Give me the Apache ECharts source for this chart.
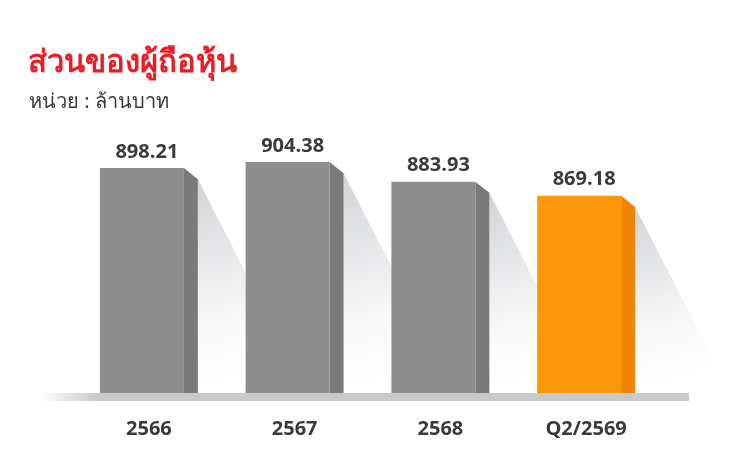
<!DOCTYPE html>
<html>
<head>
<meta charset="utf-8">
<script src="https://cdn.jsdelivr.net/npm/echarts@6/dist/echarts.min.js"></script>
<style>
html,body{margin:0;padding:0;background:#fff;}
#chart{width:733px;height:470px;}
</style>
</head>
<body>
<div id="chart"></div>
<script>
const titleText = 'ส่วนของผู้ถือหุ้น';
const unitText = 'หน่วย : ล้านบาท';
const categories = ['2566', '2567', '2568', 'Q2/2569'];
const values = [898.21, 904.38, 883.93, 869.18];
const highlightIndex = 3;

const AXIS_MIN = 663, AXIS_MAX = 917;
const FRONT_GRAY = '#8e8e8e', SIDE_GRAY = '#7a7a7a';
const FRONT_ORANGE = '#fb980a', SIDE_ORANGE = '#ef8404';

const chart = echarts.init(document.getElementById('chart'));

function barGeom(api) {
  const i = api.value(0);
  const top = api.coord([i, api.value(1)]);
  const base = api.coord([i, AXIS_MIN]);
  const band = api.size([1, 0])[0];
  const half = band * 0.336;
  const side = band * 0.096;
  const left = top[0] - half;
  const frontRight = top[0] + half - side;
  const right = top[0] + half;
  return {i, cx: top[0], topY: top[1], baseY: base[1], left, frontRight, right, side, band};
}

const option = {
  animation: false,
  backgroundColor: '#ffffff',
  title: [
    {text: titleText, left: 23, top: 43,
     textStyle: {color: '#ed1c24', fontSize: 31, fontWeight: 'bold', fontFamily: 'Noto Sans, sans-serif'}},
    {text: unitText, left: 24, top: 87,
     textStyle: {color: '#3a3a3a', fontSize: 20, fontWeight: 'normal', fontFamily: 'Noto Sans, sans-serif'}}
  ],
  grid: {left: 76, width: 583, top: 150, bottom: 77, containLabel: false},
  xAxis: {
    type: 'category', data: categories,
    axisLine: {show: false}, axisTick: {show: false},
    axisLabel: {margin: 26, color: '#3a3a3a', fontSize: 20, fontWeight: 'bold', fontFamily: 'Open Sans, sans-serif'}
  },
  yAxis: {
    type: 'value', min: AXIS_MIN, max: AXIS_MAX, show: false, splitLine: {show: false}
  },
  series: [
    {
      type: 'custom', z: 1,
      data: values.map((v, i) => [i, v]),
      renderItem: function (params, api) {
        const g = barGeom(api);
        const sTop = g.topY + g.side * 0.8;
        const reach = (g.baseY - sTop) / 1.95;
        return {
          type: 'polygon',
          shape: {points: [[g.right, sTop], [g.right + reach, g.baseY], [g.right, g.baseY]]},
          style: {
            fill: new echarts.graphic.LinearGradient(0, 0, 0.5, 1, [
              {offset: 0, color: 'rgba(205,207,210,0.95)'},
              {offset: 0.45, color: 'rgba(228,229,231,0.7)'},
              {offset: 1, color: 'rgba(255,255,255,0)'}
            ])
          }
        };
      }
    },
    {
      type: 'custom', z: 2,
      data: [[0, AXIS_MIN]],
      renderItem: function (params, api) {
        const cs = params.coordSys;
        const base = api.coord([0, AXIS_MIN]);
        const x0 = cs.x - 36, x1 = cs.x + cs.width + 30;
        return {
          type: 'rect',
          shape: {x: x0, y: base[1], width: x1 - x0, height: 8},
          style: {
            fill: new echarts.graphic.LinearGradient(0, 0, 1, 0, [
              {offset: 0, color: 'rgba(200,201,203,0)'},
              {offset: 0.09, color: 'rgba(200,201,203,1)'},
              {offset: 1, color: 'rgba(200,201,203,1)'}
            ])
          }
        };
      }
    },
    {
      type: 'custom', z: 3,
      data: values.map((v, i) => [i, v]),
      renderItem: function (params, api) {
        const g = barGeom(api);
        const hi = g.i === highlightIndex;
        const front = hi ? FRONT_ORANGE : FRONT_GRAY;
        const sideC = hi ? SIDE_ORANGE : SIDE_GRAY;
        return {
          type: 'group',
          children: [
            {type: 'rect', shape: {x: g.left, y: g.topY, width: g.frontRight - g.left, height: g.baseY - g.topY},
             style: {fill: front}},
            {type: 'polygon', shape: {points: [[g.frontRight, g.topY], [g.right, g.topY + g.side * 0.8], [g.right, g.baseY], [g.frontRight, g.baseY]]},
             style: {fill: sideC}},
            {type: 'text', x: g.cx - 2, y: g.topY - 6,
             style: {text: api.value(1).toFixed(2), fill: '#3a3a3a', font: 'bold 20px "Open Sans", sans-serif',
                     align: 'center', verticalAlign: 'bottom'}}
          ]
        };
      }
    }
  ]
};
chart.setOption(option);
</script>
</body>
</html>
